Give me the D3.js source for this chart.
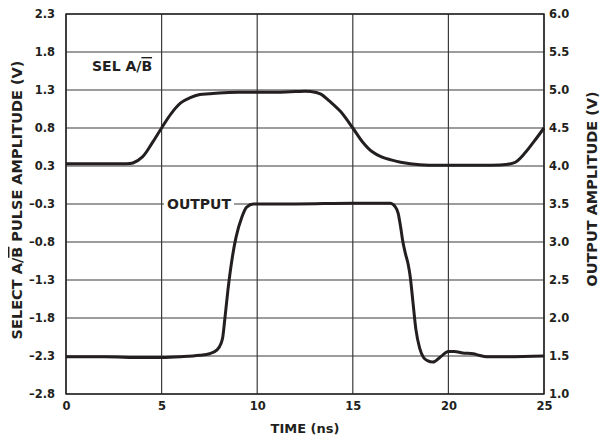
<!DOCTYPE html>
<html>
<head>
<meta charset="utf-8">
<script src="https://cdn.jsdelivr.net/npm/d3@7"></script>
<style>
    body { margin: 0; background: #fff; }
    text { font-family: "DejaVu Sans", sans-serif; font-weight: bold; fill: #231f20; }
    .grid line { stroke: #3a3a3a; stroke-width: 1.2; }
    .trace { fill: none; stroke: #231f20; stroke-width: 3; stroke-linejoin: round; }
</style>
</head>
<body>
<div id="chart"></div>
<script>
// time axis (ns)
let timeTicks = [0, 5, 10, 15, 20, 25];
// left axis labels (select pulse amplitude, V) - not evenly spaced on the datasheet
let leftTicks = [2.3, 1.8, 1.3, 0.8, 0.3, -0.3, -0.8, -1.3, -1.8, -2.3, -2.8];
// right axis labels (output amplitude, V)
let rightTicks = [1.0, 1.5, 2.0, 2.5, 3.0, 3.5, 4.0, 4.5, 5.0, 5.5, 6.0];

// SEL A/B trace, read against the left axis
let selTime = [0, 1, 2, 3, 3.5, 4, 4.5, 5, 5.5, 6, 6.5, 7, 7.5, 8, 9, 10, 11, 12, 12.8,
    13.3, 13.8, 14.35, 15, 15.5, 16, 16.5, 17, 17.5, 18, 19, 20, 21, 22, 23,
    23.5, 24, 24.5, 25];
let selValue = [0.33, 0.33, 0.33, 0.33, 0.34, 0.42, 0.6, 0.8, 0.99, 1.13, 1.2, 1.24, 1.25, 1.26, 1.27, 1.27, 1.27, 1.28, 1.28,
    1.25, 1.15, 1.02, 0.8, 0.62, 0.49, 0.42, 0.38, 0.35, 0.33, 0.31, 0.31, 0.31, 0.31, 0.32,
    0.35, 0.47, 0.63, 0.8];

// OUTPUT trace, read against the right axis
let outTime = [0, 2, 4, 5, 6, 7, 7.5, 7.9, 8.1, 8.2, 8.3, 8.47, 8.7, 8.9, 9.2, 9.45, 9.8, 10.1, 12, 15,
    16.95, 17.2, 17.37, 17.5, 17.6, 17.75, 17.9, 18, 18.15, 18.3, 18.5, 18.7, 18.9, 19.2, 19.55,
    20, 20.3, 20.75, 21.3, 21.6, 22, 23, 25];
let outValue = [1.49, 1.49, 1.48, 1.48, 1.49, 1.51, 1.53, 1.58, 1.66, 1.75, 1.97, 2.37, 2.8, 3.07, 3.33, 3.46, 3.5, 3.5, 3.5, 3.51,
    3.51, 3.47, 3.38, 3.2, 3.03, 2.85, 2.7, 2.55, 2.2, 1.85, 1.6, 1.48, 1.44, 1.42, 1.48,
    1.56, 1.56, 1.54, 1.53, 1.51, 1.49, 1.49, 1.5];

let width = 602,
    height = 440;
let plot = {left: 66, right: 544, top: 14, bottom: 394};

let svg = d3.select('#chart')
    .append('svg')
    .attr('width', width)
    .attr('height', height);

let x = d3.scaleLinear().domain([0, 25]).range([plot.left, plot.right]);
let yRight = d3.scaleLinear().domain([1, 6]).range([plot.bottom, plot.top]);
// left labels map onto the same gridlines as the right ones
let yLeft = d3.scaleLinear()
    .domain([-2.8, -0.3, 0.3, 2.3])
    .range([yRight(1), yRight(3.5), yRight(4), yRight(6)]);

let fmt = function(d) {
    return d < 0 ? '\u2013' + Math.abs(d).toFixed(1) : d.toFixed(1);
};

// gridlines
let grid = svg.append('g').attr('class', 'grid');
grid.selectAll('line.h')
    .data(rightTicks)
    .enter()
    .append('line')
    .attr('class', 'h')
    .attr('x1', plot.left).attr('x2', plot.right)
    .attr('y1', d => yRight(d)).attr('y2', d => yRight(d));
grid.selectAll('line.v')
    .data(timeTicks)
    .enter()
    .append('line')
    .attr('class', 'v')
    .attr('x1', d => x(d)).attr('x2', d => x(d))
    .attr('y1', plot.top).attr('y2', plot.bottom);

// axes (labels only, the gridlines do the rest)
let leftAxis = svg.append('g')
    .attr('transform', 'translate(' + plot.left + ',0)')
    .call(d3.axisLeft(yLeft).tickValues(leftTicks).tickFormat(fmt).tickSize(0).tickPadding(11));
let rightAxis = svg.append('g')
    .attr('transform', 'translate(' + plot.right + ',0)')
    .call(d3.axisRight(yRight).tickValues(rightTicks).tickFormat(fmt).tickSize(0).tickPadding(5));
let bottomAxis = svg.append('g')
    .attr('transform', 'translate(0,' + plot.bottom + ')')
    .call(d3.axisBottom(x).tickValues(timeTicks).tickFormat(d3.format('d')).tickSize(0).tickPadding(8));

[leftAxis, rightAxis, bottomAxis].forEach(function(a) {
    a.select('.domain').remove();
    a.selectAll('text')
        .attr('fill', '#231f20')
        .style('font-family', '"DejaVu Sans", sans-serif')
        .style('font-weight', 'bold')
        .style('font-size', '11.5px');
});

// traces
let selLine = d3.line()
    .x(d => x(d[0]))
    .y(d => yLeft(d[1]))
    .curve(d3.curveCatmullRom.alpha(0.5));
let outLine = d3.line()
    .x(d => x(d[0]))
    .y(d => yRight(d[1]))
    .curve(d3.curveMonotoneX);

svg.append('path')
    .attr('class', 'trace')
    .attr('d', selLine(d3.zip(selTime, selValue)));
svg.append('path')
    .attr('class', 'trace')
    .attr('d', outLine(d3.zip(outTime, outValue)));

// frame
svg.append('rect')
    .attr('x', plot.left).attr('y', plot.top)
    .attr('width', plot.right - plot.left)
    .attr('height', plot.bottom - plot.top)
    .attr('fill', 'none')
    .attr('stroke', '#231f20')
    .attr('stroke-width', 1.4);

// trace labels
let sel = svg.append('text')
    .attr('x', 92).attr('y', 71)
    .style('font-size', '14px');
sel.append('tspan').text('SEL A/');
sel.append('tspan').text('B').style('text-decoration', 'overline');

svg.append('rect')
    .attr('x', 164).attr('y', yRight(3.5) - 8)
    .attr('width', 70).attr('height', 16)
    .attr('fill', '#fff');
svg.append('text')
    .attr('x', 167).attr('y', yRight(3.5) + 5)
    .style('font-size', '14px')
    .text('OUTPUT');

// axis titles
svg.append('text')
    .attr('x', (plot.left + plot.right) / 2).attr('y', 433)
    .attr('text-anchor', 'middle')
    .style('font-size', '13px')
    .text('TIME (ns)');

let leftTitle = svg.append('text')
    .attr('transform', 'translate(22,200) rotate(-90)')
    .attr('text-anchor', 'middle')
    .style('font-size', '14.5px');
leftTitle.append('tspan').text('SELECT A/');
leftTitle.append('tspan').text('B').style('text-decoration', 'overline');
leftTitle.append('tspan').text(' PULSE AMPLITUDE (V)');

svg.append('text')
    .attr('transform', 'translate(597,189) rotate(-90)')
    .attr('text-anchor', 'middle')
    .style('font-size', '14.5px')
    .text('OUTPUT AMPLITUDE (V)');
</script>
</body>
</html>
